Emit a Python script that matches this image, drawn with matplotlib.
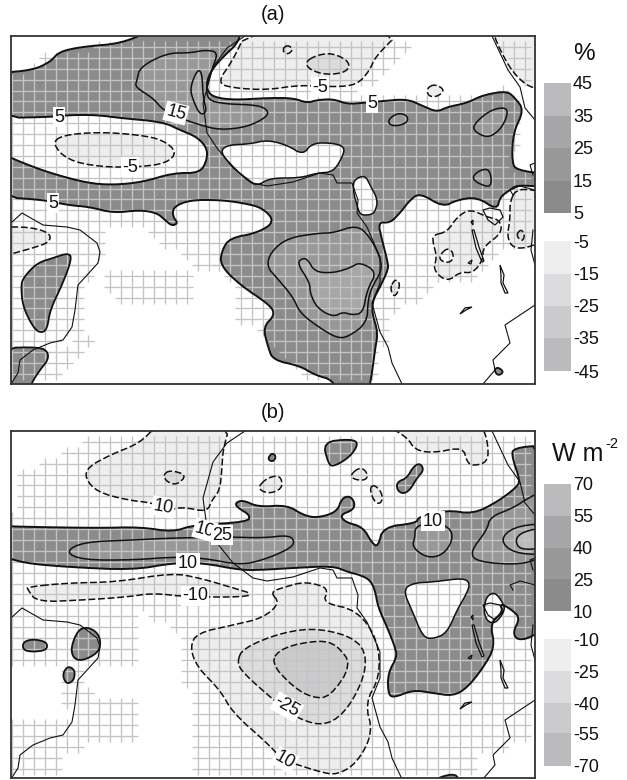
import numpy as np
import matplotlib
matplotlib.use("Agg")
import matplotlib.pyplot as plt
from matplotlib.patches import Polygon
from matplotlib.path import Path
from matplotlib.collections import LineCollection

plt.rcParams['font.family'] = ['Liberation Sans', 'DejaVu Sans']

# ---------- map outlines (map units) ----------
C5, C15, C25, C35 = '#8b8b8c', '#989899', '#a6a6a8', '#bbbbbd'
N1, N2, N3, N4 = '#eeeeee', '#dcdcde', '#cbcbcd', '#bbbbbd'

A_POS5 = [(0,73),(33,70),(50,62),(58,53),(70,49),(90,46),(115,44),(135,38),(150,30),(242,30),(237,44),(225,55),(213,68),(207,80),(207,90),(213,97),(233,100),(267,98),(293,98),(307,103),(317,100),(333,99),(347,104),(362,103),(383,101),(407,99),(423,106),(437,112),(447,107),(467,103),(483,95),(507,91),(515,98),(524,110),(513,133),(512,163),(517,170),(545,174),(545,187),(517,185),(510,190),(500,197),(497,210),(477,197),(457,200),(443,207),(420,193),(410,200),(400,213),(390,223),(378,222),(382,240),(388,263),(388,270),(380,287),(373,300),(372,313),(378,332),(375,350),(372,373),(368,395),(337,395),(333,380),(315,375),(300,366),(273,360),(268,347),(263,327),(275,315),(270,305),(240,285),(220,265),(222,250),(230,238),(257,233),(275,222),(263,208),(243,203),(220,200),(190,200),(173,207),(173,217),(178,223),(172,226),(165,220),(157,213),(140,210),(113,213),(90,207),(67,205),(45,200),(0,197),(0,153),(23,163),(50,173),(87,183),(113,185),(143,182),(173,173),(200,173),(207,160),(207,148),(197,137),(180,130),(163,122),(120,118),(97,115),(70,115),(50,117),(0,118)]
A_HOLE1 = [(220,152),(227,145),(250,144),(267,140),(287,145),(303,155),(312,143),(333,143),(345,147),(342,158),(333,172),(317,173),(300,178),(270,178),(257,186),(247,180),(233,167)]
A_HOLE2 = [(353,180),(365,175),(370,185),(378,200),(375,212),(370,215),(360,215),(357,205),(354,195)]
A_POS5_B = [(68,253),(72,258),(63,283),(50,310),(47,330),(40,333),(33,327),(23,307),(21,287),(23,278),(37,263),(53,258)]
A_POS5_C = [(0,348),(40,347),(48,352),(48,360),(40,370),(32,382),(28,395),(0,395)]
A_POS5_D = [(494,370),(498,367),(504,372),(498,376)]
A_POS15 = [[(137,80),(140,67),(167,53),(190,53),(205,50),(218,52),(213,67),(207,83),(207,100),(225,104),(257,105),(268,110),(267,117),(247,127),(220,130),(200,125),(180,118),(163,110),(153,98),(135,87)],
           [(473,125),(490,110),(507,107),(507,117),(500,130),(488,138),(475,132)],
           [(388,120),(397,113),(407,115),(408,122),(398,126),(390,125)],
           [(472,177),(480,170),(490,169),(492,188),(477,183)],
           [(267,267),(270,253),(287,238),(320,233),(333,233),(357,225),(370,237),(380,257),(382,270),(372,287),(368,300),(367,323),(348,337),(337,338),(320,328),(300,313),(293,297),(277,278)]]
A_POS25 = [[(190,88),(197,70),(202,72),(203,97),(207,112),(200,115),(193,100)],
           [(297,263),(303,258),(308,260),(315,272),(333,273),(350,268),(360,262),(377,272),(367,290),(363,313),(352,315),(343,312),(333,317),(317,308),(310,293),(310,283)]]
A_NEG5 = [[(52,143),(63,135),(100,132),(140,135),(163,140),(177,152),(167,163),(140,167),(100,167),(67,160)],
          [(217,83),(233,60),(247,30),(402,30),(375,57),(370,70),(357,85),(333,87),(300,85),(267,90),(233,88)],
          [(492,30),(500,50),(513,73),(530,88),(545,88),(545,30)],
          [(433,235),(447,232),(457,217),(470,209),(487,217),(500,220),(502,233),(483,247),(483,260),(473,273),(460,272),(447,282),(433,270),(437,257),(433,243)],
          [(510,200),(518,188),(545,192),(545,240),(527,248),(513,248),(507,237),(510,220)],
          [(0,227),(30,227),(50,233),(50,242),(33,248),(0,257)],
          [(390,288),(395,279),(400,283),(398,292),(394,297)],
          [(283,48),(288,45),(293,49),(289,54),(284,53)],
          [(427,88),(435,84),(445,90),(437,97),(428,96)]]
A_NEG15 = [[(305,62),(317,55),(333,53),(350,62),(347,72),(327,75),(310,70)],
           [(516,235),(521,229),(525,235),(522,242)]]
A_WHITE_NEG = [(440,255),(447,248),(453,252),(453,260),(447,263),(440,260)]

B_POS10 = [(0,526),(33,527),(100,528),(140,527),(173,532),(193,525),(248,522),(250,515),(238,508),(235,503),(243,500),(258,507),(287,505),(303,515),(317,518),(337,512),(342,498),(350,496),(355,503),(353,510),(340,515),(345,522),(363,527),(372,543),(378,547),(383,527),(417,523),(418,517),(447,510),(473,514),(497,502),(517,487),(520,480),(512,457),(513,448),(545,445),(545,627),(530,638),(517,640),(513,632),(520,618),(512,610),(500,603),(503,612),(490,623),(495,647),(483,668),(467,688),(453,696),(433,693),(413,690),(393,698),(388,693),(388,673),(397,657),(395,647),(387,627),(378,607),(375,590),(370,580),(360,575),(348,572),(333,566),(293,568),(260,570),(240,570),(203,563),(173,563),(133,570),(67,567),(23,563),(0,555)]
B_HOLES = [[(403,590),(413,583),(433,582),(463,578),(470,583),(467,593),(457,610),(447,633),(433,639),(423,637),(413,613)],
           [(484,607),(487,596),(495,592),(503,603),(505,610),(497,622),(490,623),(485,617)]]
B_POS10_ISL = [[(323,442),(350,439),(359,443),(350,457),(333,467),(328,463)],
               [(397,482),(407,478),(413,467),(420,463),(424,470),(417,478),(410,490),(403,494),(397,490)],
               [(268,458),(272,453),(276,456),(274,461),(270,461)],
               [(435,785),(436,778),(457,773),(459,785)],
               [(23,642),(33,639),(47,642),(47,650),(33,652),(23,650)],
               [(71,647),(78,630),(87,627),(97,632),(101,642),(98,653),(82,661),(73,658)],
               [(63,673),(68,666),(75,670),(74,680),(68,684),(64,680)]]
B_POS25 = [[(65,552),(83,542),(133,540),(173,538),(230,537),(263,538),(290,535),(295,543),(287,550),(263,560),(240,565),(203,558),(173,557),(133,560),(83,560)],
           [(415,537),(412,547),(427,558),(443,555),(453,540),(450,527),(430,522),(415,527)],
           [(470,552),(487,530),(490,517),(513,508),(530,497),(545,490),(545,555),(523,565),(477,562)]]
B_POS40 = [[(500,540),(513,527),(545,523),(545,555),(513,553)]]
B_POS55 = [[(515,540),(522,532),(545,527),(545,548),(520,550)]]
B_NEG10 = [[(157,425),(140,443),(110,455),(88,467),(85,478),(97,492),(127,500),(153,503),(170,510),(183,507),(207,512),(212,500),(220,490),(222,467),(223,450),(230,425)],
           [(258,487),(267,478),(280,475),(283,487),(273,493),(263,492)],
           [(385,425),(407,437),(415,450),(433,453),(463,447),(467,462),(473,466),(488,462),(488,443),(482,425)],
           [(350,475),(360,467),(367,472),(367,480),(355,480)],
           [(370,487),(375,485),(382,493),(382,502),(377,504),(372,497)],
           [(27,587),(67,583),(117,582),(172,573),(200,578),(240,590),(250,593),(247,597),(187,597),(153,593),(127,597),(83,600),(37,602),(28,590)],
           [(270,592),(280,603),(263,618),(233,625),(197,633),(190,647),(197,667),(220,690),(233,713),(267,743),(283,760),(320,772),(337,775),(357,763),(373,733),(365,703),(380,677),(378,640),(357,610),(323,603),(328,590),(320,585),(303,582),(285,587)]]
B_NEG25 = [[(163,475),(170,470),(187,475),(177,485),(167,482)],
           [(237,662),(243,648),(283,632),(320,628),(360,640),(368,667),(350,707),(327,726),(300,720),(277,703),(243,673)]]
B_NEG40 = [[(270,662),(283,647),(320,640),(337,645),(352,665),(330,697),(313,698),(293,687)]]

COAST = [[(12,222),(22,213),(43,225),(67,227),(80,230),(97,243),(100,252),(98,263),(78,285),(75,310),(72,327),(63,340),(50,343),(33,350),(20,360),(18,373),(11,384)],
         [(245,36),(227,48),(213,67),(203,103),(207,133),(217,148),(233,168),(253,183),(267,186),(293,182),(320,173),(333,175),(337,183),(352,183),(358,200),(357,213),(367,227),(380,257),(380,283),(372,303),(380,332),(388,347),(392,363),(402,384)],
         [(492,36),(508,70),(520,87),(525,108),(535,120)],
         [(535,305),(505,325),(510,343),(493,360),(495,370),(483,384)],
         [(535,163),(530,165),(533,175)],
         [(513,195),(510,190),(520,186),(535,190)],
         [(533,230),(531,250),(535,265)]]
LAKES = [[(500,265),(504,275),(503,283),(508,293),(505,293),(501,283),(501,275)],
         [(472,230),(474,230),(479,247),(484,261),(482,262),(476,248)],
         [(460,314),(465,308),(472,307),(466,310)],
         [(468,263),(472,260),(471,264)],
         [(483,210),(490,208),(500,210),(503,217),(495,225),(488,220)],
         [(471,222),(473,220),(473,225)]]

# areas carrying the significance grid
A_GRID_IN = [[(12,75),(50,55),(100,45),(245,36),(400,36),(410,50),(390,60),(375,85),(345,95),(345,100),(470,100),(510,85),(525,110),(515,135),(513,170),(535,172),(535,250),(505,250),(490,255),(470,280),(440,285),(420,300),(395,310),(380,360),(382,384),(310,384),(265,340),(240,320),(240,290),(220,275),(195,273),(185,255),(150,240),(150,225),(105,225),(100,260),(88,285),(80,330),(62,345),(60,378),(12,384)],
             [(108,275),(190,275),(190,303),(125,303),(108,290)],
             [(62,345),(90,335),(90,345),(65,375)],
             [(490,36),(535,36),(535,90),(512,72),(500,48)]]
B_GRID_IN = [[(12,510),(18,470),(60,455),(110,431),(535,431),(535,745),(480,750),(480,778),(190,778),(195,700),(180,680),(188,640),(140,610),(138,740),(100,745),(100,778),(12,778)]]
B_GRID_OUT = [[(0,665),(60,665),(62,700),(75,715),(0,722)],
              [(82,662),(138,662),(138,692),(90,700)],
              [(62,748),(135,745),(135,785),(62,785)]]
GRID_DX, GRID_DY = 10.92, 10.9

# label text, x, y, angle
A_LABELS = [('5',59,117,0),('15',176,113,-15),('-5',130,167,0),('5',53,203,0),('-5',320,87,0),('5',372,103,0)]
B_LABELS = [('10',163,507,-10),('10',205,530,-15),('25',222,535,0),('10',188,563,0),('10',433,521,0),('-10',195,596,0),('-25',287,707,-30),('10',285,760,-30)]

# colour bars: tick labels and their positions
A_POS_TICKS, A_POS_Y = ['45','35','25','15','5'], [83,116,148,181,213]
A_NEG_TICKS, A_NEG_Y = ['-5','-15','-25','-35','-45'], [241,274,306,338,371]
B_POS_TICKS, B_POS_Y = ['70','55','40','25','10'], [484,516,548,579,611]
B_NEG_TICKS, B_NEG_Y = ['-10','-25','-40','-55','-70'], [639,671,703,733,766]
POS_COLORS = [C35, C25, C15, C5]
NEG_COLORS = [N1, N2, N3, N4]


def chaikin(pts, n=2):
    p = np.asarray(pts, float)
    for _ in range(n):
        q = np.roll(p, -1, axis=0)
        p = np.column_stack([0.75*p + 0.25*q, 0.25*p + 0.75*q]).reshape(-1, 2)
    return p


def fill(ax, pts, color, z=2, edge=True, ls='-', lw=1.1):
    p = chaikin(pts)
    ax.add_patch(Polygon(p, closed=True, fc=color, ec='none', zorder=z))
    if edge:
        ax.add_patch(Polygon(p, closed=True, fc='none', ec='#111111', lw=lw,
                             ls=(0, (4.5, 1.8)) if ls == '--' else '-', zorder=6))


def grid(ax, ins, outs, xlim, ylim):
    xs = np.arange(xlim[0]+1, xlim[1], GRID_DX)
    ys = np.arange(ylim[0], ylim[1], GRID_DY)
    X, Y = np.meshgrid(xs, ys)
    nodes = np.column_stack([X.ravel(), Y.ravel()])
    keep = np.zeros(len(nodes), bool)
    for poly in ins:
        keep |= Path(poly).contains_points(nodes)
    for poly in outs:
        keep &= ~Path(poly).contains_points(nodes)
    segs = []
    for x, y in nodes[keep]:
        segs.append([(x-GRID_DX*0.55, y), (x+GRID_DX*0.55, y)])
        segs.append([(x, y-GRID_DY*0.55), (x, y+GRID_DY*0.55)])
    ax.add_collection(LineCollection(segs, colors='#c4c4c4', linewidths=0.95, zorder=4))


def coast(ax, dy):
    for line in COAST:
        a = np.array(line, float)
        ax.plot(a[:, 0], a[:, 1]+dy, color='#111111', lw=0.8, zorder=7)
    for lake in LAKES:
        a = np.array(lake, float)
        a[:, 1] += dy
        ax.add_patch(Polygon(a, closed=True, fc='none', ec='#111111', lw=0.9, zorder=7))


def labels(ax, items):
    for t, x, y, r in items:
        ax.text(x, y, t, fontsize=13, ha='center', va='center', rotation=r, color='#111111', zorder=9,
                bbox=dict(fc='white', ec='none', pad=1.0))


def colourbar(fig, ys, ticks, colors):
    x0, x1 = 544, 571
    W, H = 627, 780
    ax = fig.add_axes([x0/W, 1-ys[-1]/H, (x1-x0)/W, (ys[-1]-ys[0])/H])
    ax.set_xlim(0, 1)
    ax.set_ylim(ys[-1], ys[0])
    for i, c in enumerate(colors):
        ax.fill_between([0, 1], ys[i], ys[i+1], color=c, lw=0)
    ax.set_xticks([])
    ax.yaxis.tick_right()
    ax.set_yticks(ys)
    ax.set_yticklabels(ticks, fontsize=13, color='#111111')
    ax.tick_params(axis='y', length=0, pad=1.5)
    for s in ax.spines.values():
        s.set_visible(False)
    return ax


W, H = 627, 780
fig = plt.figure(figsize=(W/100, H/100), dpi=100)


def panel(top, bottom):
    ax = fig.add_axes([11/W, 1-bottom/H, 524/W, (bottom-top)/H])
    ax.set_xlim(11, 535)
    ax.set_ylim(bottom, top)
    ax.set_xticks([])
    ax.set_yticks([])
    for s in ax.spines.values():
        s.set_linewidth(1.3)
        s.set_color('#333333')
        s.set_zorder(10)
    return ax


# ---------- panel (a) ----------
axa = panel(36, 384)
fill(axa, A_POS5, C5, lw=1.4)
for h in (A_HOLE1, A_HOLE2):
    fill(axa, h, 'white', z=2.1)
for p in (A_POS5_B, A_POS5_C, A_POS5_D):
    fill(axa, p, C5, lw=1.3)
for p in A_POS15:
    fill(axa, p, C15, z=2.2)
for p in A_POS25:
    fill(axa, p, C25, z=2.3)
for p in A_NEG5:
    fill(axa, p, N1, z=2.2, ls='--')
for p in A_NEG15:
    fill(axa, p, N2, z=2.3, ls='--')
fill(axa, A_WHITE_NEG, 'white', z=2.3, ls='--')
grid(axa, A_GRID_IN, [], (11, 535), (36, 384))
coast(axa, 0)
labels(axa, A_LABELS)
fig.text(273/W, 1-15/H, '(a)', fontsize=14.5, ha='center', va='center', color='#111111')
fig.text(584/W, 1-54/H, '%', fontsize=17.5, ha='center', va='center', color='#111111')
colourbar(fig, A_POS_Y, A_POS_TICKS, POS_COLORS)
colourbar(fig, A_NEG_Y, A_NEG_TICKS, NEG_COLORS)

# ---------- panel (b) ----------
axb = panel(431, 778)
fill(axb, B_POS10, C5, lw=1.4)
for h in B_HOLES:
    fill(axb, h, 'white', z=2.1)
for p in B_POS10_ISL:
    fill(axb, p, C5, lw=1.3)
for p in B_POS25:
    fill(axb, p, C15, z=2.2)
for p in B_POS40:
    fill(axb, p, C25, z=2.3)
for p in B_POS55:
    fill(axb, p, C35, z=2.4)
for p in B_NEG10:
    fill(axb, p, N1, z=2.2, ls='--')
for p in B_NEG25:
    fill(axb, p, N2, z=2.3, ls='--')
for p in B_NEG40:
    fill(axb, p, N3, z=2.4, ls='--')
grid(axb, B_GRID_IN, B_GRID_OUT, (11, 535), (431, 778))
coast(axb, 395)
labels(axb, B_LABELS)
fig.text(273/W, 1-412/H, '(b)', fontsize=14.5, ha='center', va='center', color='#111111')
fig.text(552/W, 1-454/H, 'W m', fontsize=18, ha='left', va='center', color='#111111')
fig.text(605/W, 1-444/H, '-2', fontsize=10.5, ha='left', va='center', color='#111111')
colourbar(fig, B_POS_Y, B_POS_TICKS, POS_COLORS)
colourbar(fig, B_NEG_Y, B_NEG_TICKS, NEG_COLORS)

fig.savefig('out.png', dpi=100, facecolor='white')
